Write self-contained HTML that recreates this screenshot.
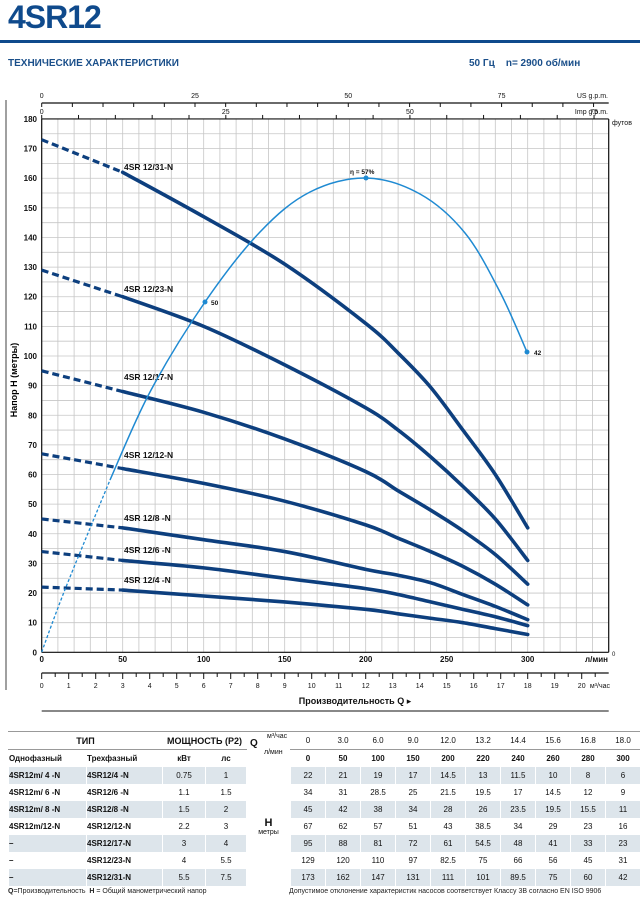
<!DOCTYPE html>
<html><head><meta charset="utf-8">
<style>
body{margin:0;background:#fff;width:640px;height:902px;overflow:hidden;font-family:"Liberation Sans","DejaVu Sans",sans-serif;position:relative}
.t{position:absolute;white-space:nowrap}
table{position:absolute;left:8px;top:731px;border-collapse:collapse;font-size:8px;color:#111}
td{height:16px;padding:0;text-align:center;border-left:1px solid #fff;}
tbody td{height:17px}
tr.s td.d{background:#dde5eb}
</style></head><body>
<div class="t" style="left:8px;top:-1px;font-size:32px;font-weight:bold;color:#0f4a8c;letter-spacing:-1px">4SR12</div>
<div style="position:absolute;left:0;top:40px;width:640px;height:3px;background:#0f4a8c"></div>
<div class="t" style="left:8px;top:58px;font-size:10px;font-weight:bold;color:#1a4f8a">ТЕХНИЧЕСКИЕ ХАРАКТЕРИСТИКИ</div>
<div class="t" style="left:469px;top:58px;font-size:10px;font-weight:bold;color:#1a4f8a">50 Гц&nbsp;&nbsp;&nbsp;&nbsp;n= 2900 об/мин</div>
<svg id="c" width="640" height="720" style="position:absolute;left:0;top:0"></svg>
<table>
<tr><td colspan="2" style="font-weight:bold;font-size:9px;border-bottom:1px solid #999;border-top:1px solid #999">ТИП</td><td colspan="2" style="font-weight:bold;font-size:9px;border-bottom:1px solid #999;border-top:1px solid #999">МОЩНОСТЬ (P2)</td><td rowspan="2" style="width:43px;border-top:1px solid #999;font-size:7px;vertical-align:top;text-align:left;position:relative"><b style="font-size:10px;position:absolute;left:3px;top:6px">Q</b><span style="position:absolute;left:20px;top:1px">м³/час</span><span style="position:absolute;left:17px;top:17px">л/мин</span></td>
<td style="width:34px;border-top:1px solid #999;border-bottom:1px solid #999">0</td><td style="width:34px;border-top:1px solid #999;border-bottom:1px solid #999">3.0</td><td style="width:34px;border-top:1px solid #999;border-bottom:1px solid #999">6.0</td><td style="width:34px;border-top:1px solid #999;border-bottom:1px solid #999">9.0</td><td style="width:34px;border-top:1px solid #999;border-bottom:1px solid #999">12.0</td><td style="width:34px;border-top:1px solid #999;border-bottom:1px solid #999">13.2</td><td style="width:34px;border-top:1px solid #999;border-bottom:1px solid #999">14.4</td><td style="width:34px;border-top:1px solid #999;border-bottom:1px solid #999">15.6</td><td style="width:34px;border-top:1px solid #999;border-bottom:1px solid #999">16.8</td><td style="width:34px;border-top:1px solid #999;border-bottom:1px solid #999">18.0</td></tr>
<tr style="font-weight:bold"><td style="width:77px;text-align:left">Однофазный</td><td style="width:75px;text-align:left">Трехфазный</td><td style="width:42px">кВт</td><td style="width:40px">лс</td><td>0</td><td>50</td><td>100</td><td>150</td><td>200</td><td>220</td><td>240</td><td>260</td><td>280</td><td>300</td></tr>
<tbody id="tb"></tbody>
</table>
<div class="t" style="left:8px;top:888px;font-size:7px;color:#222"><b>Q</b>=Производительность&nbsp;&nbsp;<b>H</b> = Общий манометрический напор</div>
<div class="t" style="left:289px;top:888px;font-size:7px;color:#222">Допустимое отклонение характеристик насосов соответствует Классу 3В согласно EN ISO 9906</div>
<script>
var rows=[["4SR12m/ 4  -N","4SR12/4  -N","0.75","1",[22,21,19,17,14.5,13,11.5,10,8,6]],
["4SR12m/ 6  -N","4SR12/6  -N","1.1","1.5",[34,31,28.5,25,21.5,19.5,17,14.5,12,9]],
["4SR12m/ 8  -N","4SR12/8  -N","1.5","2",[45,42,38,34,28,26,23.5,19.5,15.5,11]],
["4SR12m/12-N","4SR12/12-N","2.2","3",[67,62,57,51,43,38.5,34,29,23,16]],
["–","4SR12/17-N","3","4",[95,88,81,72,61,54.5,48,41,33,23]],
["–","4SR12/23-N","4","5.5",[129,120,110,97,82.5,75,66,56,45,31]],
["–","4SR12/31-N","5.5","7.5",[173,162,147,131,111,101,89.5,75,60,42]]];
var h="";rows.forEach(function(r,i){h+='<tr class="'+(i%2==0?'s':'')+'"><td class="d" style="text-align:left;font-weight:bold">'+r[0]+'</td><td class="d" style="text-align:left;font-weight:bold">'+r[1]+'</td><td class="d">'+r[2]+'</td><td class="d">'+r[3]+'</td>'+(i==0?'<td rowspan="7" style="vertical-align:middle;font-size:7px"><b style="font-size:11px">H</b><br>метры</td>':'');r[4].forEach(function(v){h+='<td class="d">'+v+'</td>'});h+='</tr>'});
document.getElementById('tb').innerHTML=h;
var X=function(q){return 41.7+1.62*q},Y=function(m){return 652.3-2.963*m};
var s="";
function L(x1,y1,x2,y2,c,w,extra){s+='<line x1="'+x1+'" y1="'+y1+'" x2="'+x2+'" y2="'+y2+'" stroke="'+c+'" stroke-width="'+w+'" '+(extra||'')+'/>'}
function T(x,y,t,sz,a,b,c){s+='<text x="'+x+'" y="'+y+'" font-size="'+sz+'" text-anchor="'+(a||'middle')+'" '+(b?'font-weight="bold"':'')+' fill="'+(c||'#111')+'">'+t+'</text>'}
var R=X(350);
for(var q=0;q<=350;q+=10)L(X(q),Y(0),X(q),Y(180),"#c6c6c6",0.8);
for(var m=0;m<=180;m+=5)L(X(0),Y(m),R,Y(m),"#c6c6c6",0.8);
L(X(0),Y(0),X(0),Y(180),"#111",1.2);L(X(0),Y(0),R,Y(0),"#111",1.2);L(X(0),Y(180),R,Y(180),"#111",1.2);L(R,Y(0),R,Y(180),"#111",1.2);
L(6,100,6,690,"#111",0.8);
for(var m=0;m<=180;m+=10)T(37,Y(m)+3,m,8,"end",1);
for(var f=20;f<=580;f+=20){var y=Y(f*0.3048);if(y>Y(180))continue;L(R,y,R+4,y,"#111",1);if(f%100==0)T(612,y+3,f,7,"start")}
T(612,656,"0",6,"start");T(612,125,"футов",7,"start");
L(X(0),103,R,103,"#111",1.2);
for(var g=0;g*3.785<=350;g+=5){var x=X(g*3.785);L(x,103,x,107,"#111",1);if(g%25==0)T(x,98,g,7)}
T(608,98,"US g.p.m.",7,"end");
for(var g=0;g*4.546<=350;g+=5){var x=X(g*4.546);L(x,Y(180),x,Y(180)-4,"#111",1);if(g%25==0)T(x,114,g,7)}
T(608,114,"Imp g.p.m.",7,"end");
for(var q=0;q<=300;q+=50)T(X(q),662,q,8,"middle",1);
T(608,662,"л/мин",8,"end",1);
L(X(0),673,R,673,"#111",1.2);
for(var k=0;k<=41;k++){var x=X(k*0.5*16.667);if(x>R)break;L(x,673,x,k%2?677:679,"#111",1);if(k%2==0&&k<=40)T(x,688,k/2,7)}
T(610,688,"м³/час",7,"end");
T(355,704,"Производительность Q ▸",9,"middle",1);
L(X(0),711,R,711,"#111",1);
s+='<text x="17" y="380" font-size="9" font-weight="bold" text-anchor="middle" transform="rotate(-90 17 380)">Напор  H (метры)</text>';
function path(p){var d="M"+p[0][0]+","+p[0][1];for(var i=0;i<p.length-1;i++){var p0=p[i-1]||p[i],p1=p[i],p2=p[i+1],p3=p[i+2]||p2;d+=" C"+(p1[0]+(p2[0]-p0[0])/6)+","+(p1[1]+(p2[1]-p0[1])/6)+" "+(p2[0]-(p3[0]-p1[0])/6)+","+(p2[1]-(p3[1]-p1[1])/6)+" "+p2[0]+","+p2[1]}return d}
var Qs=[0,50,100,150,200,220,240,260,280,300];
var labY=[583,553,521,458,380,292,170];
rows.forEach(function(r,i){var H=r[4];var pd=[[X(0),Y(H[0])],[X(50),Y(H[1])]];s+='<path d="'+path(pd)+'" fill="none" stroke="#0d3f7e" stroke-width="3.2" stroke-dasharray="7,4"/>';var ps=[];for(var j=1;j<10;j++)ps.push([X(Qs[j]),Y(H[j])]);s+='<path d="'+path(ps)+'" fill="none" stroke="#0d3f7e" stroke-width="3.6" stroke-linecap="round"/>';T(124,labY[i],r[1].replace("4SR","4SR ").replace("  "," "),8.5,"start",1)});
var e1=[[41.7,652],[66,587],[110,480]],e2=[[110,480],[150,392],[205,302],[260,232],[310,192],[366,178],[420,194],[465,233],[500,292],[527,352]];
s+='<path d="'+path(e1)+'" fill="none" stroke="#1f8ad2" stroke-width="1.3" stroke-dasharray="3,2"/>';
s+='<path d="'+path(e2)+'" fill="none" stroke="#1f8ad2" stroke-width="1.5"/>';
[[205,302,"50",211,305],[366,178,"η = 57%",350,174],[527,352,"42",534,355]].forEach(function(p){s+='<circle cx="'+p[0]+'" cy="'+p[1]+'" r="2.5" fill="#1f8ad2"/>';T(p[3],p[4],p[2],6.5,"start",1)});
document.getElementById('c').innerHTML=s;
</script>
</body></html>
